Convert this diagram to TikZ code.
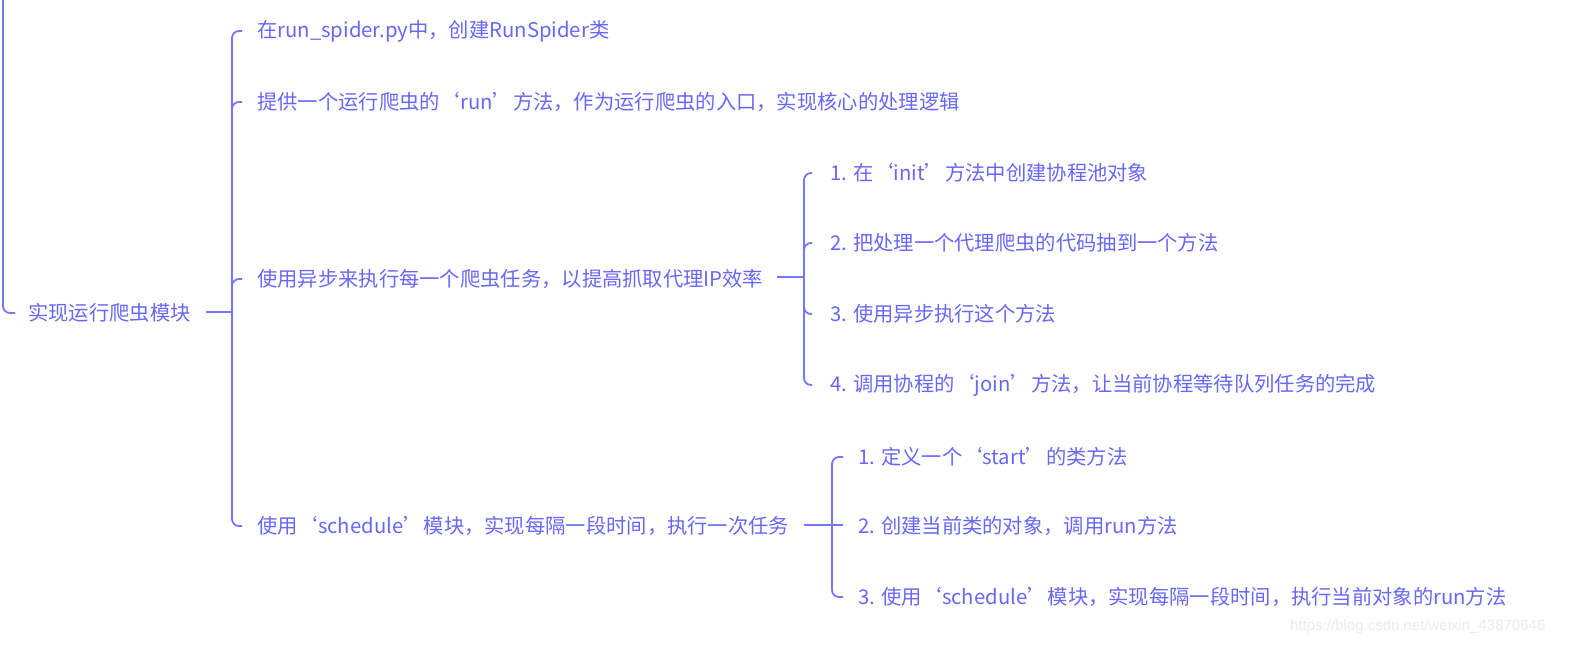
\documentclass[tikz,border=0pt]{standalone}
\usepackage{fontspec}
\setmainfont{Noto Sans CJK SC}
\newfontfamily\wmfont{Liberation Sans}
\definecolor{ink}{RGB}{118,118,255}
\definecolor{txtc}{RGB}{104,104,248}
\definecolor{wm}{RGB}{236,236,236}
\begin{document}
\begin{tikzpicture}[x=1pt,y=-1pt,
  ln/.style={draw=ink,line width=1.8pt},
  rc/.style={rounded corners=7pt},
  txt/.style={anchor=west,inner sep=0pt,text=txtc,font=\fontsize{20.3}{24}\selectfont}]
\useasboundingbox (0,0) rectangle (1570,646);
\clip (0,0) rectangle (1570,646);
\fill[white] (0,0) rectangle (1570,646);

% texts
\node[txt] (root) at (28,313) {实现运行爬虫模块};
\node[txt] (m1) at (257,31) {在run\_spider.py中，创建RunSpider类};
\node[txt] (m2) at (257,102) {提供一个运行爬虫的‘run’方法，作为运行爬虫的入口，实现核心的处理逻辑};
\node[txt] (m3) at (257,279) {使用异步来执行每一个爬虫任务，以提高抓取代理IP效率};
\node[txt] (m4) at (257,526) {使用‘schedule’模块，实现每隔一段时间，执行一次任务};

\node[txt] (a1) at (830,173) {1. 在‘init’方法中创建协程池对象};
\node[txt] (a2) at (830,243) {2. 把处理一个代理爬虫的代码抽到一个方法};
\node[txt] (a3) at (830,314) {3. 使用异步执行这个方法};
\node[txt] (a4) at (830,385) {4. 调用协程的‘join’方法，让当前协程等待队列任务的完成};

\node[txt] (b1) at (858,457) {1. 定义一个‘start’的类方法};
\node[txt] (b2) at (858,526) {2. 创建当前类的对象，调用run方法};
\node[txt] (b3) at (858,597) {3. 使用‘schedule’模块，实现每隔一段时间，执行当前对象的run方法};

\node[anchor=west,inner sep=0pt,text=wm,font=\wmfont\fontsize{15}{18}\selectfont] (wmk) at (1290,627) {https://blog.csdn.net/weixin\_43870646};

% spine junctions
\coordinate (M) at (232,312);
\coordinate (A) at (804,277);
\coordinate (B) at (832,525);

% leftmost partial bracket
\draw[ln,rc] (3,-10) |- ([xshift=-13pt]root.west);

% root -> main bracket
\draw[ln] ([xshift=15pt]root.east |- M) -- (M);
\draw[ln,rc] ([xshift=-15pt]m1.west) -| (M) |- ([xshift=-15pt]m4.west);
\draw[ln,rc] ([xshift=-15pt]m2.west) -| ([yshift=-14pt]M |- m2.west);
\draw[ln,rc] ([xshift=-15pt]m3.west) -| ([yshift=-14pt]M |- m3.west);

% sub bracket A
\draw[ln] ([xshift=14pt]m3.east |- A) -- (A);
\draw[ln,rc] ([xshift=-18pt]a1.west) -| (A) |- ([xshift=-18pt]a4.west);
\draw[ln,rc] ([xshift=-18pt]a2.west) -| ([yshift=-14pt]A |- a2.west);
\draw[ln,rc] ([xshift=-18pt]a3.west) -| ([yshift=14pt]A |- a3.west);

% sub bracket B
\draw[ln] ([xshift=15pt]m4.east |- B) -- (B);
\draw[ln,rc] ([xshift=-15pt]b1.west) -| (B) |- ([xshift=-15pt]b3.west);
\draw[ln] (B) -- ([xshift=-15pt]b2.west |- B);
\end{tikzpicture}
\end{document}
